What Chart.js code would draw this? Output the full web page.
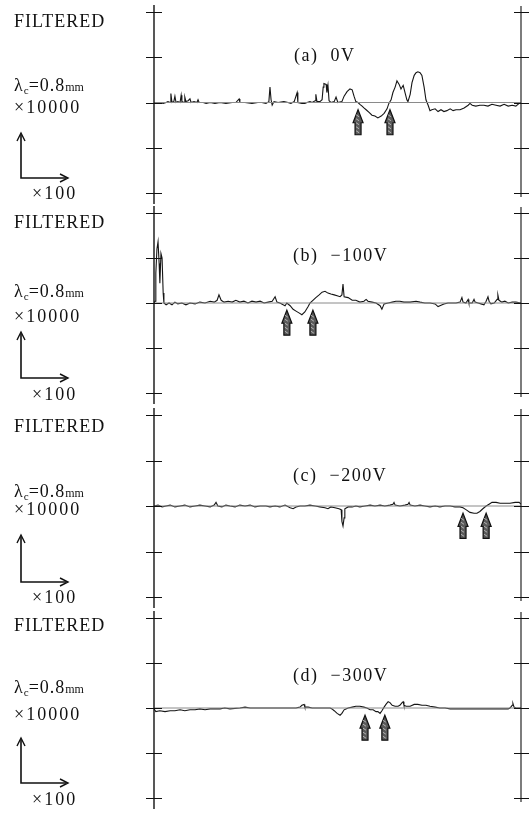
<!DOCTYPE html>
<html>
<head>
<meta charset="utf-8">
<script src="https://cdn.jsdelivr.net/npm/chart.js@4/dist/chart.umd.min.js"></script>
<style>
  html, body { margin: 0; padding: 0; background: #fff; }
  body { width: 532px; height: 815px; overflow: hidden; position: relative;
         font-family: "Liberation Serif", "DejaVu Serif", serif; color: #111; }
  canvas { position: absolute; left: 0; }
  .t { position: absolute; white-space: pre; line-height: 1; font-size: 18px; }
  .sp1 { letter-spacing: 1px; }
  .sp2 { letter-spacing: 2px; }
  .spt { letter-spacing: 1.5px; }
  .sub { font-size: 11px; position: relative; top: 3px; letter-spacing: 0; }
  .mm { font-size: 12px; letter-spacing: 0; }
  svg { position: absolute; overflow: visible; }
</style>
</head>
<body>
<script>
// Stylus profiles, four bias voltages. x: trace position (0-100), y: height (±100 full scale)
const yTicks = [-100, -50, 0, 50, 100];
const panelTitles = ['(a)  0V', '(b)  \u2212100V', '(c)  \u2212200V', '(d)  \u2212300V'];

const xA = [0,0.8,1.6,2.5,3.3,3.8,4.4,4.6,4.9,5.4,5.7,6.0,6.5,7.1,7.4,7.6,8.2,8.4,8.7,9.3,9.8,10.1,10.9,11.7,12.0,12.3,13.4,14.2,15.3,16.6,18.0,19.6,21.3,22.3,23.2,23.4,24.8,26.7,28.3,29.4,30.5,31.3,31.6,31.9,32.2,32.7,33.8,35.4,36.5,37.3,38.2,39.0,39.2,40.3,41.1,41.7,42.5,43.1,43.9,44.1,44.4,45.2,45.8,46.1,46.3,46.9,47.1,47.4,47.7,48.2,49.1,49.6,50.1,51.2,51.8,52.6,53.4,54.0,54.5,55.0,55.6,56.1,56.7,57.2,57.8,58.6,59.4,60.2,61.0,61.9,62.7,63.5,64.0,64.6,65.1,65.7,66.2,66.8,67.3,67.9,68.4,68.9,69.2,69.8,70.3,70.9,71.4,71.9,72.5,73.0,73.6,74.1,74.7,75.2,75.7,76.6,77.4,78.2,79.0,79.8,80.7,81.5,82.3,83.4,84.5,85.6,86.1,86.7,87.7,88.8,89.9,91.0,92.1,93.2,94.3,95.4,96.5,97.6,98.6,99.5,100];
const yA = [0,-1,0,-1,0,1,0,10,0,1,7,0,1,0,8,1,0,6,1,2,4,0,1,0,3,0,0,-1,0,-1,0,-1,0,0,4,0,0,-1,0,0,-1,1,17,3,-3,1,0,1,0,-1,1,11,0,-1,-1,0,1,0,2,9,1,1,3,17,21,20,11,19,2,0,1,6,0,1,7,12,15,14,7,1,0,-2,-4,-6,-8,-11,-14,-15,-17,-15,-12,-7,-1,3,11,17,24,20,15,19,11,3,1,9,22,30,33,34,33,30,17,3,-3,-9,-8,-7,-10,-8,-10,-9,-7,-9,-8,-8,-6,-3,-1,-3,-4,-3,-3,-4,-2,-3,-4,-2,-4,-3,-4,-1,0];

const xB = [0,0.3,0.5,0.8,1.1,1.4,1.6,1.9,2.2,2.5,2.7,3.3,4.1,4.9,5.7,6.5,7.6,8.7,9.8,11.2,12.5,13.9,15.3,16.4,17.2,17.7,18.3,19.1,20.2,21.3,22.3,23.4,24.5,25.6,26.7,27.8,28.9,30.0,31.1,32.2,33.0,33.5,34.3,35.2,35.7,36.2,37.1,37.9,38.7,39.5,40.3,41.1,42.0,42.5,43.3,44.1,45.0,45.8,46.6,47.4,48.2,49.1,49.9,50.7,51.2,51.5,51.8,52.9,54.0,55.0,56.1,57.2,57.8,58.3,59.4,60.5,61.6,62.1,62.7,63.8,64.9,65.9,67.0,68.1,69.8,71.4,72.5,73.8,75.2,76.6,77.4,77.9,79.0,80.1,81.2,82.3,83.4,83.9,84.2,85.0,85.6,85.8,86.7,87.2,87.5,88.3,89.1,89.9,90.5,91.0,91.3,91.8,92.7,93.5,93.7,94.0,94.8,95.6,96.5,97.6,98.6,100];
const yB = [0,2,33,60,68,44,22,55,50,11,0,-2,0,-2,1,-1,0,-2,0,-1,1,0,2,1,3,9,3,1,2,1,3,1,2,0,2,1,2,0,1,2,7,1,0,-2,-3,0,-3,-7,-9,-11,-13,-10,-4,0,3,6,9,12,13,11,10,9,8,7,9,21,7,6,3,3,1,2,4,2,1,0,-3,-7,-1,0,1,2,2,1,1,2,1,0,0,-1,-4,-3,-1,0,0,0,1,6,1,0,4,0,0,4,1,0,-1,-2,2,7,2,-1,0,4,9,3,1,2,0,1,1,0];

const xC = [0,1.1,2.2,3.3,4.4,5.7,7.1,8.4,9.8,11.2,12.5,13.9,15.3,16.4,16.9,17.4,18.5,19.6,20.7,22.1,23.4,24.8,26.2,27.5,28.9,30.5,31.6,33.0,34.3,35.7,37.1,37.9,38.7,39.8,41.1,42.5,43.9,45.2,46.6,47.4,48.2,49.3,50.4,51.0,51.2,51.5,51.8,52.0,52.9,54.0,55.0,56.1,57.5,58.9,60.2,61.6,62.9,64.3,65.1,65.4,65.7,67.0,68.4,69.2,69.5,69.8,71.1,72.5,73.8,75.2,76.6,77.9,79.3,80.7,82.0,83.4,84.2,85.0,86.1,87.2,88.0,88.8,89.6,90.5,91.3,92.1,93.2,94.3,95.6,97.0,98.4,99.5,100];
const yC = [0,1,-1,0,1,-1,0,1,-1,0,1,0,-1,1,4,0,-1,1,0,-1,1,0,1,-1,0,0,-1,0,-1,1,-2,-3,-1,0,0,1,0,-1,-2,-3,-1,-2,-3,-4,-17,-22,-13,-3,-1,-1,0,-1,0,1,0,1,0,1,2,4,1,0,1,2,4,1,0,1,0,-1,0,-1,0,0,-1,-1,-2,-4,-7,-8,-8,-6,-3,0,2,4,4,3,3,3,4,4,2];

const xD = [0,0.5,1.6,3.0,4.4,5.7,7.1,8.4,9.8,11.2,12.5,13.9,15.3,16.6,18.0,19.3,20.7,23.4,24.8,26.2,28.9,31.6,34.3,37.1,38.7,39.8,40.3,40.9,41.1,42.0,43.1,44.7,46.3,48.0,48.5,49.1,49.9,50.7,51.2,51.8,52.3,52.9,54.0,55.0,56.1,57.2,58.0,58.9,59.7,60.5,61.0,61.6,62.1,62.7,63.2,63.8,64.3,64.9,65.7,66.5,67.0,67.6,67.9,68.1,68.7,69.8,70.9,71.9,73.0,74.1,75.2,76.6,77.9,79.3,80.7,83.4,86.1,88.8,91.6,94.3,96.5,97.0,97.6,97.8,98.1,98.6,100];
const yD = [-1,-4,-3,-4,-3,-3,-2,-3,-2,-2,-1,-2,-1,-1,-1,0,-1,0,1,0,0,0,0,0,0,1,3,4,1,1,0,0,0,0,-1,-3,-6,-8,-6,-2,-1,0,1,2,2,1,0,-2,-2,-4,-4,-6,-3,1,4,7,6,3,2,2,3,6,7,3,2,2,4,4,3,3,2,1,0,0,-1,-1,-1,-1,-1,-1,-1,0,3,5,1,0,0];

// Positions of the marked pit boundaries on each trace
const arrowsA = [55.6, 64.3];
const arrowsB = [36.2, 43.3];
const arrowsC = [84.2, 90.5];
const arrowsD = [57.5, 62.9];
const arrowTip = -8;

const labelFiltered = 'FILTERED';
const labelV = '\u00d710000';
const labelH = '\u00d7100';

// Page layout (pixels); plotH is the tick-to-tick height of each frame
const panels = [
  { xs: xA, ys: yA, arrows: arrowsA, title: panelTitles[0], canvasTop: 2,   height: 205, plotH: 181,
    titleTop: 46,  titleLeft: 294, filt: 12,  lam: 76,  vmag: 98,  lTop: 133, lBot: 178, hmag: 184 },
  { xs: xB, ys: yB, arrows: arrowsB, title: panelTitles[1], canvasTop: 203, height: 204, plotH: 180,
    titleTop: 246, titleLeft: 293, filt: 213, lam: 282, vmag: 307, lTop: 332, lBot: 378, hmag: 385 },
  { xs: xC, ys: yC, arrows: arrowsC, title: panelTitles[2], canvasTop: 405, height: 206, plotH: 182,
    titleTop: 466, titleLeft: 293, filt: 417, lam: 482, vmag: 500, lTop: 535, lBot: 582, hmag: 588 },
  { xs: xD, ys: yD, arrows: arrowsD, title: panelTitles[3], canvasTop: 608, height: 204, plotH: 180,
    titleTop: 666, titleLeft: 293, filt: 616, lam: 678, vmag: 705, lTop: 738, lBot: 783, hmag: 790 }
];

// Frame with cross ticks on both vertical axes, plus the hatched double arrows
const frameAndArrows = {
  id: 'frameAndArrows',
  afterDatasetsDraw(chart, args, opts) {
    const { ctx, chartArea: ca, scales: { x, y } } = chart;
    ctx.save();
    ctx.strokeStyle = '#111';
    // left axis
    ctx.lineWidth = 1.4;
    ctx.beginPath();
    ctx.moveTo(ca.left, ca.top - 7);
    ctx.lineTo(ca.left, ca.bottom + 11);
    ctx.stroke();
    // right axis
    ctx.lineWidth = 1.1;
    ctx.beginPath();
    ctx.moveTo(ca.right, ca.top - 6);
    ctx.lineTo(ca.right, ca.bottom + 4);
    ctx.stroke();
    ctx.lineWidth = 1.2;
    yTicks.forEach(t => {
      const py = Math.round(y.getPixelForValue(t)) + 0.5;
      ctx.beginPath();
      ctx.moveTo(ca.left - 8, py); ctx.lineTo(ca.left + 8, py);
      ctx.moveTo(ca.right - 7, py); ctx.lineTo(ca.right + 8, py);
      ctx.stroke();
    });
    // arrows
    opts.arrows.forEach(a => {
      const cx = x.getPixelForValue(a);
      const tip = y.getPixelForValue(arrowTip);
      const headH = 13, halfW = 5, shaftW = 3, shaftEnd = tip + 25;
      ctx.fillStyle = '#5a5a5a';
      ctx.lineWidth = 1.2;
      ctx.beginPath();
      ctx.moveTo(cx, tip);
      ctx.lineTo(cx + halfW, tip + headH);
      ctx.lineTo(cx + shaftW, tip + headH);
      ctx.lineTo(cx + shaftW, shaftEnd);
      ctx.lineTo(cx - shaftW, shaftEnd);
      ctx.lineTo(cx - shaftW, tip + headH);
      ctx.lineTo(cx - halfW, tip + headH);
      ctx.closePath();
      ctx.fill();
      ctx.stroke();
      ctx.strokeStyle = '#ccc';
      ctx.lineWidth = 0.8;
      ctx.beginPath();
      for (let k = tip + 5; k < shaftEnd - 1; k += 4) {
        ctx.moveTo(cx - 2, k); ctx.lineTo(cx + 1, k + 2);
      }
      ctx.stroke();
      ctx.strokeStyle = '#111';
    });
    ctx.restore();
  }
};

function addText(html, left, top, cls) {
  const d = document.createElement('div');
  d.className = 't ' + (cls || '');
  d.style.left = left + 'px';
  d.style.top = top + 'px';
  d.innerHTML = html;
  document.body.appendChild(d);
}

function addLArrow(top, bottom) {
  const ns = 'http://www.w3.org/2000/svg';
  const s = document.createElementNS(ns, 'svg');
  s.style.left = '0px'; s.style.top = '0px';
  s.setAttribute('width', 532); s.setAttribute('height', 815);
  const p = document.createElementNS(ns, 'path');
  p.setAttribute('d', `M21 ${top + 2} L21 ${bottom} L66 ${bottom}`);
  p.setAttribute('fill', 'none'); p.setAttribute('stroke', '#111'); p.setAttribute('stroke-width', '1.6');
  const h1 = document.createElementNS(ns, 'path');
  h1.setAttribute('d', `M17 ${top + 8} L21 ${top} L25 ${top + 8}`);
  h1.setAttribute('fill', 'none'); h1.setAttribute('stroke', '#111'); h1.setAttribute('stroke-width', '1.4');
  const h2 = document.createElementNS(ns, 'path');
  h2.setAttribute('d', `M60 ${bottom - 4} L68 ${bottom} L60 ${bottom + 4}`);
  h2.setAttribute('fill', 'none'); h2.setAttribute('stroke', '#111'); h2.setAttribute('stroke-width', '1.4');
  s.appendChild(p); s.appendChild(h1); s.appendChild(h2);
  document.body.appendChild(s);
}

panels.forEach(p => {
  const cv = document.createElement('canvas');
  cv.width = 532; cv.height = p.height;
  cv.style.top = p.canvasTop + 'px';
  document.body.appendChild(cv);

  const trace = p.xs.map((v, i) => ({ x: v, y: p.ys[i] }));
  new Chart(cv, {
    type: 'line',
    data: {
      datasets: [
        { data: [{ x: 0, y: 0 }, { x: 100, y: 0 }], borderColor: '#8a8a8a', borderWidth: 1,
          pointRadius: 0, tension: 0 },
        { data: trace, borderColor: '#151515', borderWidth: 1.1, pointRadius: 0, tension: 0 }
      ]
    },
    options: {
      responsive: false,
      animation: false,
      devicePixelRatio: 1,
      events: [],
      layout: { padding: { left: 154, right: 11, top: 10, bottom: p.height - 10 - p.plotH } },
      scales: {
        x: { type: 'linear', min: 0, max: 100, display: false },
        y: { type: 'linear', min: -100, max: 100, display: false }
      },
      plugins: {
        legend: { display: false },
        tooltip: { enabled: false },
        frameAndArrows: { arrows: p.arrows }
      }
    },
    plugins: [frameAndArrows]
  });

  addText(p.title, p.titleLeft, p.titleTop, 'spt');
  addText(labelFiltered, 14, p.filt, 'sp1');
  addText('\u03bb<span class="sub">c</span>=0.8<span class="mm">mm</span>', 14, p.lam, 'sp1');
  addText(labelV, 14, p.vmag, 'sp2');
  addLArrow(p.lTop, p.lBot);
  addText(labelH, 32, p.hmag, 'sp2');
});
</script>
</body>
</html>
